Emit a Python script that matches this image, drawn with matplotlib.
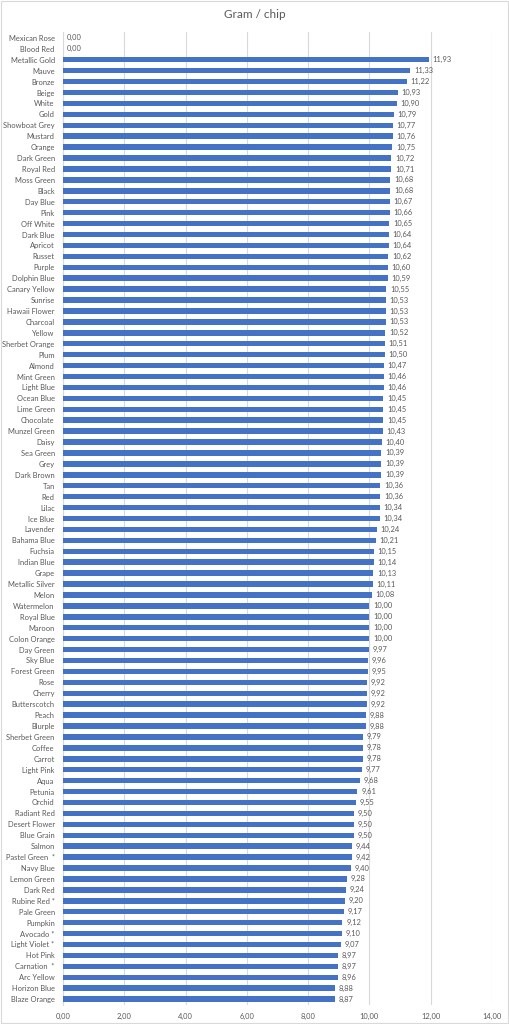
import matplotlib
matplotlib.use("Agg")
import matplotlib.pyplot as plt
from matplotlib.patches import Rectangle

plt.rcParams['font.family'] = ['Lato', 'DejaVu Sans']

# colours, top to bottom as in the chart
names = ["Mexican Rose", "Blood Red", "Metallic Gold", "Mauve", "Bronze", "Beige", "White", "Gold",
         "Showboat Grey", "Mustard", "Orange", "Dark Green", "Royal Red", "Moss Green", "Black",
         "Day Blue", "Pink", "Off White", "Dark Blue", "Apricot", "Russet", "Purple", "Dolphin Blue",
         "Canary Yellow", "Sunrise", "Hawaii Flower", "Charcoal", "Yellow", "Sherbet Orange", "Plum",
         "Almond", "Mint Green", "Light Blue", "Ocean Blue", "Lime Green", "Chocolate", "Munzel Green",
         "Daisy", "Sea Green", "Grey", "Dark Brown", "Tan", "Red", "Lilac", "Ice Blue", "Lavender",
         "Bahama Blue", "Fuchsia", "Indian Blue", "Grape", "Metallic Silver", "Melon", "Watermelon",
         "Royal Blue", "Maroon", "Colon Orange", "Day Green", "Sky Blue", "Forest Green", "Rose",
         "Cherry", "Butterscotch", "Peach", "Blurple", "Sherbet Green", "Coffee", "Carrot",
         "Light Pink", "Aqua", "Petunia", "Orchid", "Radiant Red", "Desert Flower", "Blue Grain",
         "Salmon", "Pastel Green  *", "Navy Blue", "Lemon Green", "Dark Red", "Rubine Red *",
         "Pale Green", "Pumpkin", "Avocado *", "Light Violet *", "Hot Pink", "Carnation  *",
         "Arc Yellow", "Horizon Blue", "Blaze Orange"]

gram_per_chip = [0.00, 0.00, 11.93, 11.33, 11.22, 10.93, 10.90, 10.79, 10.77, 10.76, 10.75, 10.72,
                 10.71, 10.68, 10.68, 10.67, 10.66, 10.65, 10.64, 10.64, 10.62, 10.60, 10.59, 10.55,
                 10.53, 10.53, 10.53, 10.52, 10.51, 10.50, 10.47, 10.46, 10.46, 10.45, 10.45, 10.45,
                 10.43, 10.40, 10.39, 10.39, 10.39, 10.36, 10.36, 10.34, 10.34, 10.24, 10.21, 10.15,
                 10.14, 10.13, 10.11, 10.08, 10.00, 10.00, 10.00, 10.00, 9.97, 9.96, 9.95, 9.92,
                 9.92, 9.92, 9.88, 9.88, 9.79, 9.78, 9.78, 9.77, 9.68, 9.61, 9.55, 9.50, 9.50,
                 9.50, 9.44, 9.42, 9.40, 9.28, 9.24, 9.20, 9.17, 9.12, 9.10, 9.07, 8.97, 8.97,
                 8.96, 8.88, 8.87]

x_ticks = [0, 2, 4, 6, 8, 10, 12, 14]

grey = "#595959"
bar_col = "#4472C4"

fig = plt.figure(figsize=(5.09, 10.24), dpi=100)
fig.patches.append(Rectangle((0.002, 0.001), 0.996, 0.998, transform=fig.transFigure,
                             fill=False, edgecolor="#d9d9d9", linewidth=0.8))
ax = fig.add_axes([0.1238, 0.0190, 0.8428, 0.9493])

pos = list(range(len(names)))
ax.barh(pos, gram_per_chip, height=0.5, color=bar_col, zorder=3)
for p, v in zip(pos, gram_per_chip):
    ax.text(v + 0.12, p, f"{v:.2f}".replace(".", ","), va="center", ha="left",
            fontsize=5.4, color=grey)

ax.set_ylim(len(names) - 0.5, -0.5)
ax.set_xlim(0, 14)
ax.set_yticks(pos)
ax.set_yticklabels(names, fontsize=5.4, color=grey)
ax.set_xticks(x_ticks)
ax.set_xticklabels([f"{t:.2f}".replace(".", ",") for t in x_ticks], fontsize=5.4, color=grey)
ax.tick_params(axis="y", length=0, pad=6)
ax.tick_params(axis="x", length=0, pad=6)
ax.grid(axis="x", color="#d9d9d9", linewidth=0.8, zorder=0)
for s in ["top", "right", "bottom"]:
    ax.spines[s].set_visible(False)
ax.spines["left"].set_color("#d9d9d9")
ax.spines["left"].set_linewidth(0.8)

fig.text(0.5, 0.986, "Gram / chip", ha="center", va="center", fontsize=8.5, color=grey)

fig.savefig("out.png", dpi=100)
